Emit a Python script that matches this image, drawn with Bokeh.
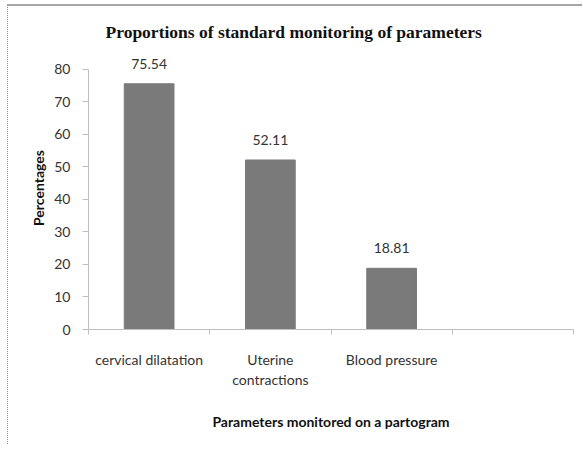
from bokeh.plotting import figure
from bokeh.models import FixedTicker, Range1d, ColumnDataSource, LabelSet
from bokeh.core.properties import value
from bokeh.embed import file_html
from bokeh.resources import INLINE

# Data
categories = ["cervical dilatation", "Uterine\ncontractions", "Blood pressure", ""]
percentages = [75.54, 52.11, 18.81]
value_labels = ["75.54", "52.11", "18.81"]
y_ticks = [0, 10, 20, 30, 40, 50, 60, 70, 80]
y_axis_max = 80
y_view_max = 87

n_slots = len(categories)
centers = [i + 0.5 for i in range(n_slots)]
bounds = [i for i in range(n_slots + 1)]

SANS = "Lato"
TXT = "#333333"

p = figure(width=575, height=440, x_range=Range1d(0, n_slots), y_range=Range1d(0, y_view_max),
           output_backend="svg", toolbar_location=None,
           title="Proportions of standard monitoring of parameters")
p.min_border_left = 80
p.min_border_right = 10
p.min_border_top = 40
p.min_border_bottom = 117
p.outline_line_color = None
p.xgrid.visible = False
p.ygrid.visible = False
p.styles = {"margin-top": "4px", "margin-left": "7px",
            "border-top": "2px solid #a6a6a6", "border-left": "1px dotted #8c8c8c"}

p.title.text_font = "Liberation Serif"
p.title.text_font_size = "17.5px"
p.title.text_font_style = "bold"
p.title.text_color = "#111111"
p.title.align = "left"
p.title.offset = 17
p.title.standoff = 9

src = ColumnDataSource(dict(x=centers[:len(percentages)], top=percentages, lab=value_labels))
p.vbar(x="x", top="top", width=0.41, source=src, fill_color="#7a7a7a", line_color="#7a7a7a")
labels = LabelSet(x="x", y="top", text="lab", source=src, text_align="center",
                  text_baseline="alphabetic", y_offset=15, text_font=value(SANS),
                  text_font_size=value("14px"), text_color=value(TXT))
p.add_layout(labels)

xa = p.xaxis[0]
xa.ticker = FixedTicker(ticks=centers, minor_ticks=bounds)
xa.major_label_overrides = {c: lab for c, lab in zip(centers, categories)}
xa.major_tick_out = 0
xa.major_tick_in = 0
xa.minor_tick_out = 5
xa.minor_tick_in = 0
xa.minor_tick_line_color = "#bfbfbf"
xa.axis_line_color = "#bfbfbf"
xa.major_label_standoff = 16
xa.major_label_text_font = SANS
xa.major_label_text_font_size = "14px"
xa.major_label_text_color = TXT
xa.axis_label = "Parameters monitored on a partogram"
xa.axis_label_text_font = SANS
xa.axis_label_text_font_size = "14px"
xa.axis_label_text_font_style = "bold"
xa.axis_label_text_color = "#111111"
xa.axis_label_standoff = 22

ya = p.yaxis[0]
ya.ticker = FixedTicker(ticks=y_ticks, minor_ticks=[])
ya.bounds = (0, y_axis_max)
ya.major_tick_out = 6
ya.major_tick_in = 0
ya.major_tick_line_color = "#bfbfbf"
ya.axis_line_color = "#bfbfbf"
ya.major_label_standoff = 12
ya.major_label_text_font = SANS
ya.major_label_text_font_size = "14px"
ya.major_label_text_color = TXT
ya.axis_label = "Percentages"
ya.axis_label_text_font = SANS
ya.axis_label_text_font_size = "14px"
ya.axis_label_text_font_style = "bold"
ya.axis_label_text_color = "#111111"
ya.axis_label_standoff = 4

open("out.html", "w").write(file_html(p, INLINE))
